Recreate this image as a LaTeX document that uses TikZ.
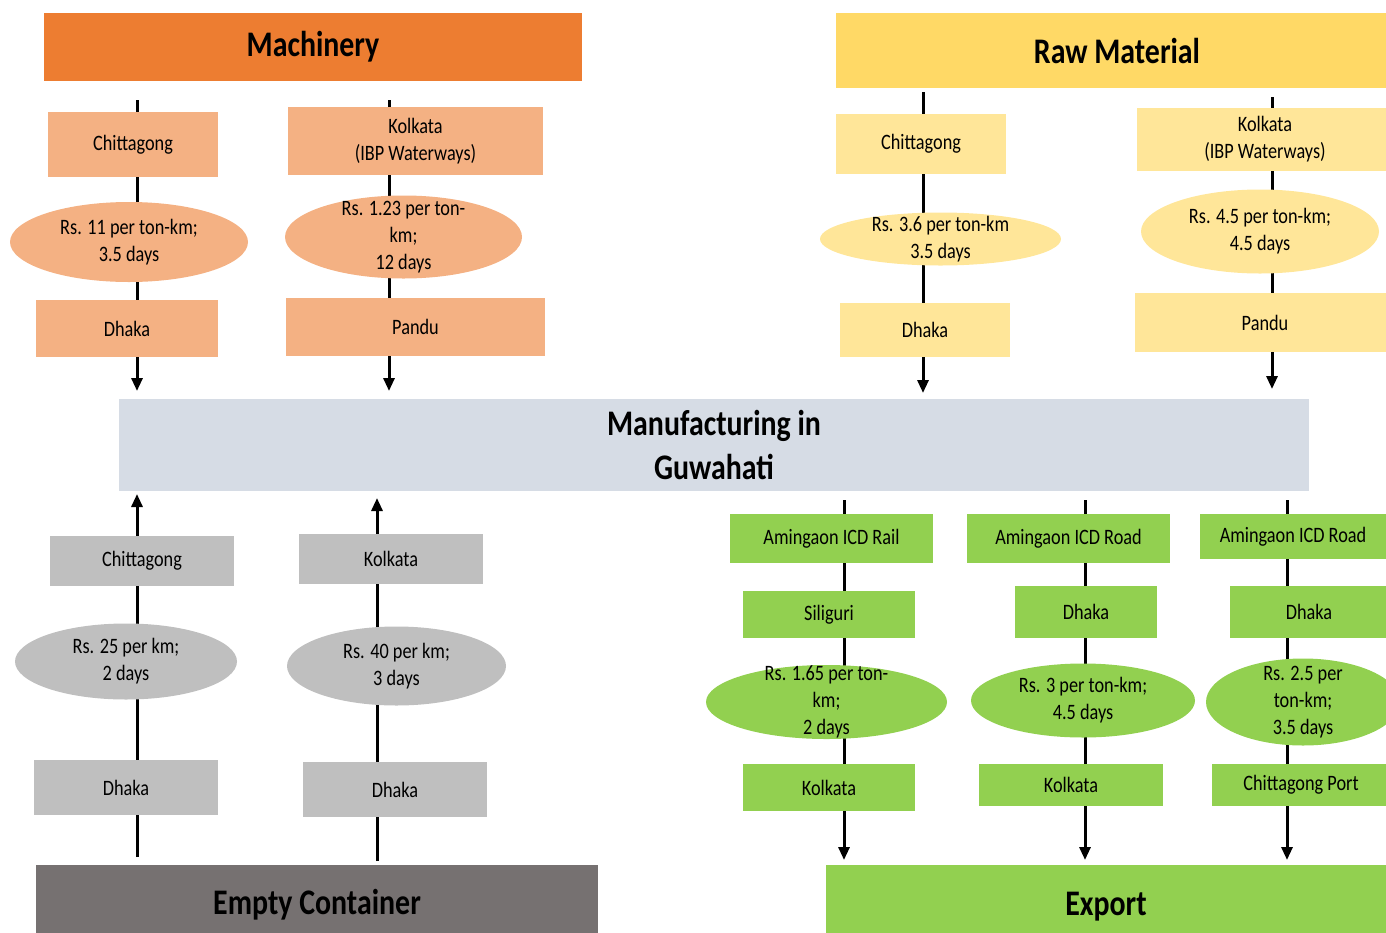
\documentclass[tikz,border=0pt]{standalone}
\usepackage{fontspec}
\setmainfont{Carlito}[FakeStretch=0.83]
\usetikzlibrary{shapes.geometric,arrows.meta,backgrounds}

\definecolor{machhead}{HTML}{ED7D31}
\definecolor{machbox}{HTML}{F4B183}
\definecolor{rawhead}{HTML}{FFD966}
\definecolor{rawbox}{HTML}{FFE699}
\definecolor{mfgbox}{HTML}{D6DCE5}
\definecolor{emptyhead}{HTML}{767171}
\definecolor{emptybox}{HTML}{BFBFBF}
\definecolor{exportbox}{HTML}{92D050}

\tikzset{
  head/.style={rectangle, inner sep=0pt, align=center, font=\fontsize{36}{44}\selectfont\bfseries},
  city/.style={rectangle, inner sep=0pt, align=center, font=\fontsize{22}{27}\selectfont},
  fare/.style={ellipse, inner sep=-25pt, align=center, font=\fontsize{22}{27}\selectfont},
  route/.style={line width=3pt, -{Triangle[length=13pt,width=11pt]}},
}

\begin{document}
\begin{tikzpicture}[x=1pt,y=-1pt]
    \useasboundingbox (0,0) rectangle (1386,932);

    % headers and the centre box
    \node[head, fill=machhead, minimum width=538pt, minimum height=68pt] (mach) at (313,47) {Machinery};
    \node[head, fill=rawhead, minimum width=562pt, minimum height=75pt] (raw) at (1117,50.5) {Raw Material};
    \node[head, fill=mfgbox, minimum width=1190pt, minimum height=92pt] (mfg) at (714,444.5) {Manufacturing in\\Guwahati};
    \node[head, fill=emptyhead, minimum width=562pt, minimum height=80pt] (empty) at (317,905) {Empty Container};
    \node[head, fill=exportbox, minimum width=560pt, minimum height=84pt] (export) at (1106,907) {Export};

    % machinery
    \node[city, fill=machbox, minimum width=170pt, minimum height=65pt] (mach1 from) at (133,144.5) {Chittagong};
    \node[fare, fill=machbox, minimum width=238pt, minimum height=80pt] (mach1 fare) at (129,242) {Rs. 11 per ton-km;\\3.5 days};
    \node[city, fill=machbox, minimum width=182pt, minimum height=57pt] (mach1 to) at (127,328.5) {Dhaka};
    \node[city, fill=machbox, minimum width=255pt, minimum height=68pt] (mach2 from) at (415.5,141) {Kolkata\\(IBP Waterways)};
    \node[fare, fill=machbox, minimum width=237pt, minimum height=83pt] (mach2 fare) at (403.5,237) {Rs. 1.23 per ton-\\km;\\12 days};
    \node[city, fill=machbox, minimum width=259pt, minimum height=58pt] (mach2 to) at (415.5,327) {Pandu};

    % raw material
    \node[city, fill=rawbox, minimum width=170pt, minimum height=60pt] (raw1 from) at (921,144) {Chittagong};
    \node[fare, fill=rawbox, minimum width=241pt, minimum height=53pt] (raw1 fare) at (940.5,239) {Rs. 3.6 per ton-km\\3.5 days};
    \node[city, fill=rawbox, minimum width=170pt, minimum height=54pt] (raw1 to) at (925,330) {Dhaka};
    \node[city, fill=rawbox, minimum width=256pt, minimum height=63pt] (raw2 from) at (1265,139.5) {Kolkata\\(IBP Waterways)};
    \node[fare, fill=rawbox, minimum width=238pt, minimum height=84pt] (raw2 fare) at (1260,231.5) {Rs. 4.5 per ton-km;\\4.5 days};
    \node[city, fill=rawbox, minimum width=260pt, minimum height=59pt] (raw2 to) at (1265,322.5) {Pandu};

    % empty container
    \node[city, fill=emptybox, minimum width=184pt, minimum height=50pt] (empty1 to) at (142,561) {Chittagong};
    \node[fare, fill=emptybox, minimum width=222pt, minimum height=76pt] (empty1 fare) at (126,661.5) {Rs. 25 per km;\\2 days};
    \node[city, fill=emptybox, minimum width=184pt, minimum height=55pt] (empty1 from) at (126,787.5) {Dhaka};
    \node[city, fill=emptybox, minimum width=184pt, minimum height=50pt] (empty2 to) at (391,559) {Kolkata};
    \node[fare, fill=emptybox, minimum width=219pt, minimum height=79pt] (empty2 fare) at (396.5,666) {Rs. 40 per km;\\3 days};
    \node[city, fill=emptybox, minimum width=184pt, minimum height=55pt] (empty2 from) at (395,789.5) {Dhaka};

    % export
    \node[city, fill=exportbox, minimum width=203pt, minimum height=49pt] (exp1 from) at (831.5,538.5) {Amingaon ICD Rail};
    \node[city, fill=exportbox, minimum width=172pt, minimum height=47pt] (exp1 via) at (829,614.5) {Siliguri};
    \node[fare, fill=exportbox, minimum width=241pt, minimum height=74pt] (exp1 fare) at (826.5,702) {Rs. 1.65 per ton-\\km;\\2 days};
    \node[city, fill=exportbox, minimum width=172pt, minimum height=47pt] (exp1 to) at (829,787.5) {Kolkata};
    \node[city, fill=exportbox, minimum width=203pt, minimum height=49pt] (exp2 from) at (1068.5,538.5) {Amingaon ICD Road};
    \node[city, fill=exportbox, minimum width=142pt, minimum height=52pt] (exp2 via) at (1086,612) {Dhaka};
    \node[fare, fill=exportbox, minimum width=224pt, minimum height=74pt] (exp2 fare) at (1083,700.5) {Rs. 3 per ton-km;\\4.5 days};
    \node[city, fill=exportbox, minimum width=184pt, minimum height=42pt] (exp2 to) at (1071,785) {Kolkata};
    \node[city, fill=exportbox, minimum width=186pt, minimum height=45pt] (exp3 from) at (1293,536.5) {Amingaon ICD Road};
    \node[city, fill=exportbox, minimum width=158pt, minimum height=52pt] (exp3 via) at (1309,612) {Dhaka};
    \node[fare, fill=exportbox, minimum width=194pt, minimum height=87pt] (exp3 fare) at (1303,702) {Rs. 2.5 per\\ton-km;\\3.5 days};
    \node[city, fill=exportbox, minimum width=178pt, minimum height=42pt] (exp3 to) at (1301,785) {Chittagong Port};

    % routes, behind the boxes
    \coordinate (mach1 start) at (137,100);   \coordinate (mach1 end) at (137,391);
    \coordinate (mach2 start) at (389,100);   \coordinate (mach2 end) at (389,391);
    \coordinate (raw1 start) at (923,92);     \coordinate (raw1 end) at (923,393);
    \coordinate (raw2 start) at (1272,97);    \coordinate (raw2 end) at (1272,389);
    \coordinate (empty1 start) at (137,857);  \coordinate (empty1 end) at (137,494);
    \coordinate (empty2 start) at (377,861);  \coordinate (empty2 end) at (377,498);
    \coordinate (exp1 start) at (844,500);    \coordinate (exp1 end) at (844,860);
    \coordinate (exp2 start) at (1085,500);   \coordinate (exp2 end) at (1085,860);
    \coordinate (exp3 start) at (1287,500);   \coordinate (exp3 end) at (1287,860);
    \begin{scope}[on background layer]
        \foreach \r in {mach1,mach2,raw1,raw2,empty1,empty2,exp1,exp2,exp3}
            \draw[route] (\r\space start) -- (\r\space end);
    \end{scope}
\end{tikzpicture}
\end{document}
